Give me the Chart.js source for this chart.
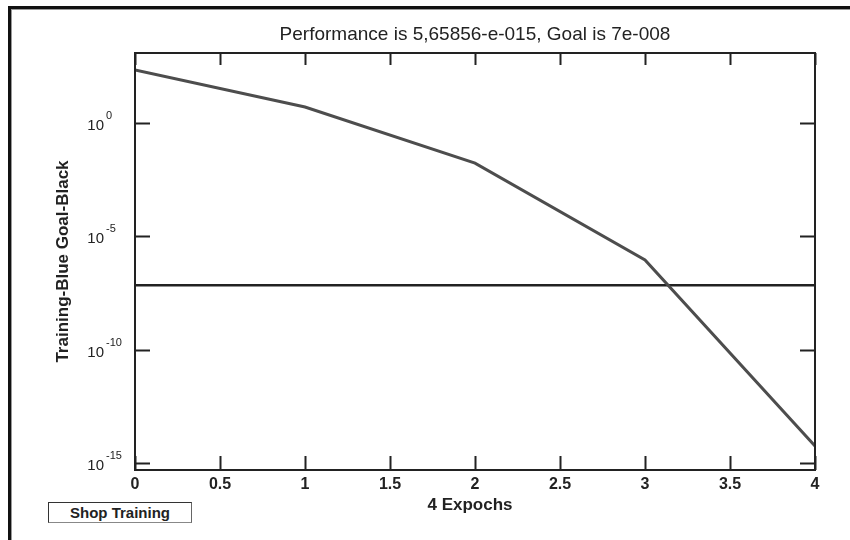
<!DOCTYPE html>
<html>
<head>
<meta charset="utf-8">
<title>Performance</title>
<script src="https://cdn.jsdelivr.net/npm/chart.js@4.4.1/dist/chart.umd.min.js"></script>
<style>
    body { margin: 0; background: #fff; }
    #wrap { position: relative; width: 850px; height: 540px; overflow: hidden; }
    #frame {
        position: absolute; left: 8px; top: 6px; width: 900px; height: 600px;
        border-top: 3px solid #111; border-left: 3px solid #111;
        box-shadow: inset 1px 1px 0 #999;
    }
    #shopBtn {
        position: absolute; left: 48px; top: 502px; width: 142px; height: 19px;
        border: 1px solid #333; border-bottom-color: #888; border-right-color: #666;
        font: bold 15px "Liberation Sans", Arial, sans-serif; color: #222;
        text-align: center; line-height: 19px; background: #fff;
    }
    canvas { position: absolute; left: 0; top: 0; }
</style>
</head>
<body>
<div id="wrap">
    <div id="frame"></div>
    <canvas id="perfChart" width="850" height="540"></canvas>
    <div id="shopBtn">Shop Training</div>
</div>
<script>
// Dados
const epochs = [0, 1, 2, 3, 4];
const trainingPerf = [220, 5.1, 0.017, 9e-7, 5.66e-15];
const goalEpochs = [0, 4];
const goalPerf = [7e-8, 7e-8];
const yTickExps = [-15, -10, -5, 0];
const xStep = 0.5;

const FONT = '"Liberation Sans", Arial, sans-serif';

// Caixa, marcas internas e rótulos 10^n
const frameBox = {
    id: 'frameBox',
    afterDraw(chart) {
        const { ctx, chartArea: a, scales } = chart;
        ctx.save();
        ctx.strokeStyle = '#222';
        ctx.lineWidth = 2;
        ctx.strokeRect(a.left, a.top, a.right - a.left, a.bottom - a.top);

        scales.x.ticks.forEach(t => {
            const px = Math.round(scales.x.getPixelForValue(t.value)) + 0.5;
            ctx.beginPath();
            ctx.moveTo(px, a.bottom); ctx.lineTo(px, a.bottom - 14);
            ctx.moveTo(px, a.top); ctx.lineTo(px, a.top + 12);
            ctx.stroke();
        });

        scales.y.ticks.forEach(t => {
            const py = Math.round(scales.y.getPixelForValue(t.value)) + 0.5;
            ctx.beginPath();
            ctx.moveTo(a.left, py); ctx.lineTo(a.left + 15, py);
            ctx.moveTo(a.right, py); ctx.lineTo(a.right - 15, py);
            ctx.stroke();

            const exp = Math.round(Math.log10(t.value));
            ctx.fillStyle = '#222';
            ctx.textBaseline = 'middle';
            ctx.font = '15px ' + FONT;
            ctx.textAlign = 'right';
            ctx.fillText('10', a.left - 31, py + 2);
            ctx.font = '11px ' + FONT;
            ctx.textAlign = 'left';
            ctx.fillText(String(exp), a.left - 29, py - 8);
        });

        // Títulos dos eixos
        ctx.fillStyle = '#222';
        ctx.font = 'bold 17px ' + FONT;
        ctx.textAlign = 'center';
        ctx.textBaseline = 'middle';
        ctx.fillText('4 Expochs', (a.left + a.right) / 2 - 5, 505);

        ctx.translate(63, (a.top + a.bottom) / 2);
        ctx.rotate(-Math.PI / 2);
        ctx.fillText('Training-Blue Goal-Black', 0, 0);
        ctx.restore();
    }
};

new Chart(document.getElementById('perfChart'), {
    type: 'line',
    data: {
        datasets: [
            {
                label: 'Training',
                data: epochs.map((e, i) => ({ x: e, y: trainingPerf[i] })),
                borderColor: '#4d4d4d',
                borderWidth: 3,
                pointRadius: 0,
                tension: 0
            },
            {
                label: 'Goal',
                data: goalEpochs.map((e, i) => ({ x: e, y: goalPerf[i] })),
                borderColor: '#222',
                borderWidth: 2.5,
                pointRadius: 0,
                tension: 0
            }
        ]
    },
    options: {
        responsive: false,
        animation: false,
        layout: { padding: { left: 0, right: 35, top: 0, bottom: 0 } },
        plugins: {
            legend: { display: false },
            tooltip: { enabled: false },
            title: {
                display: true,
                fullSize: false,
                text: 'Performance is 5,65856-e-015, Goal is 7e-008',
                color: '#222',
                font: { family: FONT, size: 19, weight: 'normal', lineHeight: 1.2 },
                padding: { top: 23.6, bottom: 6.6 }
            }
        },
        scales: {
            x: {
                type: 'linear',
                min: 0,
                max: 4,
                ticks: {
                    stepSize: xStep,
                    color: '#222',
                    padding: 5,
                    font: { family: FONT, size: 16, weight: 'bold' },
                    callback: v => String(v)
                },
                grid: { display: false, drawTicks: false },
                border: { display: false },
                afterFit: s => { s.height = 70; }
            },
            y: {
                type: 'logarithmic',
                min: 4.9e-16,
                max: 1.23e3,
                ticks: { display: false },
                grid: { display: false, drawTicks: false },
                border: { display: false },
                afterBuildTicks: s => { s.ticks = yTickExps.map(e => ({ value: Math.pow(10, e) })); },
                afterFit: s => { s.width = 135; }
            }
        }
    },
    plugins: [frameBox]
});
</script>
</body>
</html>
